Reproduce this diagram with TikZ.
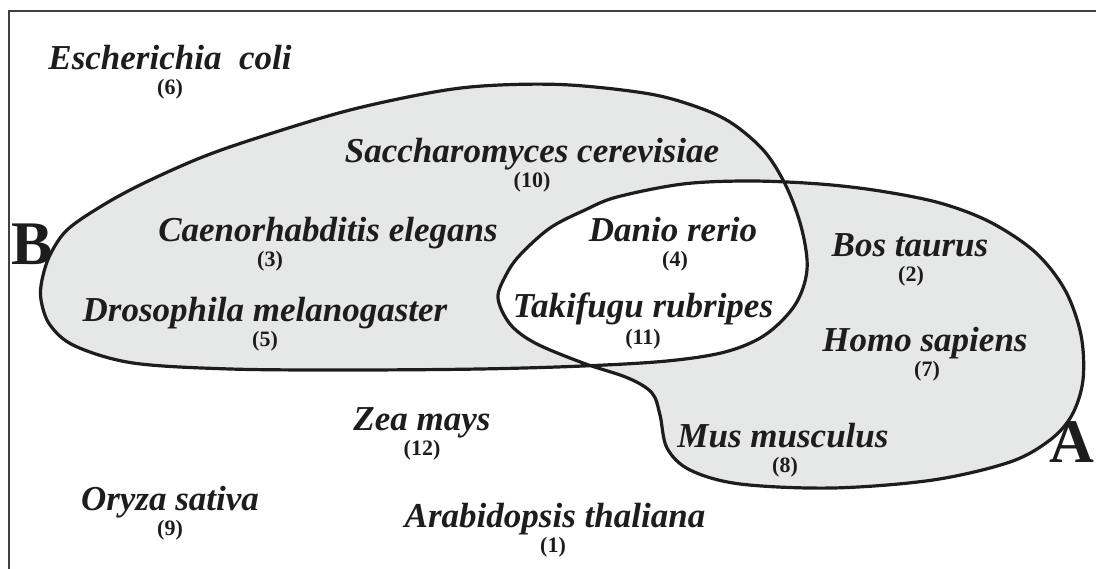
\documentclass[tikz,border=0pt]{standalone}
\usepackage{fontspec}
\setmainfont{Liberation Serif}
\definecolor{setfill}{RGB}{230,231,231}
\definecolor{ink}{RGB}{30,28,28}
\tikzset{
  sp/.style={font=\bfseries\itshape\fontsize{35}{40}\selectfont, inner sep=0pt, anchor=base, text=ink},
  num/.style={font=\bfseries\fontsize{22}{24}\selectfont, inner sep=0pt, anchor=base, text=ink},
  setlab/.style={font=\bfseries\fontsize{62}{64}\selectfont, inner sep=0pt, anchor=base, text=ink},
  setline/.style={line width=3.2pt, draw=ink, line join=round},
  framel/.style={line width=1.5pt, draw=black!75}
}
\begin{document}
\begin{tikzpicture}[x=1pt, y=-1pt]
\useasboundingbox (0,0) rectangle (1096,569);
% frame (top and left)
\coordinate (ftr) at (1096,11);
\coordinate (ftl) at (9,11);
\coordinate (fbl) at (9,569);
\draw[framel] (ftr) -- (ftl) -- (fbl);
% sets
\path[fill=setfill, even odd rule, setline]
  plot[smooth cycle, tension=0.55] coordinates {
    (41,300) (50,325) (75,346) (133,363) (230,369) (350,370) (480,369) (583,366)
    (667,361) (725,352) (765,335) (795,305) (807,270) (802,230) (787,188) (765,152)
    (733,124) (700,108) (650,94) (570,85) (500,85) (440,91) (350,110) (260,137)
    (200,158) (140,185) (100,207) (67,230) (50,255) (42,280)}
  plot[smooth cycle, tension=0.55] coordinates {
    (498,298) (506,275) (520,255) (550,228) (585,210) (617,197) (683,184) (750,181)
    (820,184) (880,191) (940,203) (990,222) (1035,252) (1065,290) (1081,335) (1083,380)
    (1072,415) (1050,440) (1010,462) (933,480) (833,488) (740,484) (690,470) (667,448)
    (660,415) (652,393) (628,378) (583,363) (535,343) (510,324)};
% set labels
\node[setlab] (labB) at (32,265) {B};
\node[setlab] (labA) at (1072,463) {A};
% species
\node[sp] (ecoli) at (170,70) {Escherichia~~coli};
\node[num] (n6) at (170,95) {(6)};
\node[sp] (scer) at (532,163) {Saccharomyces cerevisiae};
\node[num] (n10) at (532,188) {(10)};
\node[sp] (cele) at (328,242) {Caenorhabditis elegans};
\node[num] (n3) at (270,267) {(3)};
\node[sp] (drer) at (673,242) {Danio rerio};
\node[num] (n4) at (675,267) {(4)};
\node[sp] (dmel) at (265,322) {Drosophila melanogaster};
\node[num] (n5) at (265,347) {(5)};
\node[sp] (trub) at (643,318) {Takifugu rubripes};
\node[num] (n11) at (643,345) {(11)};
\node[sp] (btau) at (910,257) {Bos taurus};
\node[num] (n2) at (911,282) {(2)};
\node[sp] (hsap) at (925,352) {Homo sapiens};
\node[num] (n7) at (927,377) {(7)};
\node[sp] (mmus) at (783,447) {Mus musculus};
\node[num] (n8) at (785,472) {(8)};
\node[sp] (zmay) at (422,431) {Zea mays};
\node[num] (n12) at (422,456) {(12)};
\node[sp] (osat) at (170,510) {Oryza sativa};
\node[num] (n9) at (170,535) {(9)};
\node[sp] (atha) at (555,527) {Arabidopsis thaliana};
\node[num] (n1) at (553,552) {(1)};
\end{tikzpicture}
\end{document}
